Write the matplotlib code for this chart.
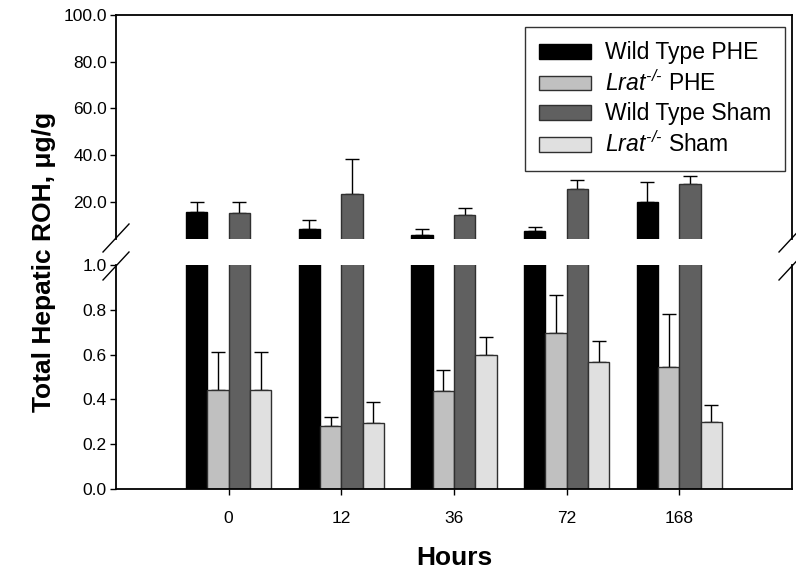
import matplotlib
matplotlib.use("Agg")
import matplotlib.pyplot as plt
import numpy as np

plt.rcParams['font.family'] = ['Liberation Sans', 'DejaVu Sans']
plt.rcParams['mathtext.fontset'] = 'custom'
plt.rcParams['mathtext.rm'] = 'Liberation Sans:italic'
plt.rcParams['mathtext.it'] = 'Liberation Sans:italic'

hours = ["0", "12", "36", "72", "168"]
series = ["Wild Type PHE", r"$\mathit{Lrat}^{\text{-/-}}$ PHE",
          "Wild Type Sham", r"$\mathit{Lrat}^{\text{-/-}}$ Sham"]
wt_phe = [15.4, 8.1, 5.7, 7.4, 19.7]
wt_phe_err = [4.6, 4.0, 2.6, 1.7, 8.6]
lrat_phe = [0.442, 0.283, 0.436, 0.695, 0.543]
lrat_phe_err = [0.168, 0.038, 0.097, 0.170, 0.237]
wt_sham = [15.1, 23.3, 14.4, 25.3, 27.7]
wt_sham_err = [4.9, 15.0, 2.9, 4.0, 3.1]
lrat_sham = [0.442, 0.296, 0.598, 0.569, 0.299]
lrat_sham_err = [0.168, 0.091, 0.081, 0.092, 0.075]

colors = ["#000000", "#c0c0c0", "#606060", "#e0e0e0"]
values = [wt_phe, lrat_phe, wt_sham, lrat_sham]
errors = [wt_phe_err, lrat_phe_err, wt_sham_err, lrat_sham_err]

W, H = 796, 575
fig = plt.figure(figsize=(W / 100, H / 100), dpi=100)
L, R = 116, 792
ax_top = fig.add_axes([L / W, 1 - 239 / H, (R - L) / W, (239 - 15) / H])
ax_bot = fig.add_axes([L / W, 1 - 489 / H, (R - L) / W, (489 - 265) / H])

x = np.arange(len(hours))
bw = 0.19
offsets = (np.arange(4) - 1.5) * bw
handles = []
for i in range(4):
    for ax in (ax_top, ax_bot):
        ec = "black" if i == 0 else "#303030"
        b = ax.bar(x + offsets[i], values[i], bw, color=colors[i],
                   edgecolor=ec, linewidth=1.0, zorder=2)
    eax = ax_top if i in (0, 2) else ax_bot
    eax.errorbar(x + offsets[i], values[i],
                 yerr=[np.zeros(len(x)), errors[i]], fmt='none',
                 ecolor='black', elinewidth=1.0, capsize=5, capthick=1.0,
                 zorder=1)
    handles.append(b)

ax_top.set_ylim(4, 100)
ax_bot.set_ylim(0, 1.0)
for ax in (ax_top, ax_bot):
    ax.set_xlim(-1, 5)
    for s in ax.spines.values():
        s.set_linewidth(1.3)
    ax.tick_params(axis='y', direction='out', length=4.5, width=1.0,
                   labelsize=12.5, pad=2)
    ax.tick_params(axis='x', direction='out', length=4.5, width=1.0,
                   labelsize=12.5, pad=11)

ax_top.spines['bottom'].set_visible(False)
ax_bot.spines['top'].set_visible(False)
ax_top.set_xticks([])
ax_top.set_yticks([20, 40, 60, 80, 100])
ax_top.set_yticklabels([f"{v:.1f}" for v in [20, 40, 60, 80, 100]])
ax_bot.set_xticks(x)
ax_bot.set_xticklabels(hours)
ax_bot.set_yticks([0, 0.2, 0.4, 0.6, 0.8, 1.0])
ax_bot.set_yticklabels([f"{v:.1f}" for v in [0, 0.2, 0.4, 0.6, 0.8, 1.0]])

# break marks
for xc in (L, R):
    for yc in (238, 266):
        fig.add_artist(plt.Line2D([(xc - 13) / W, (xc + 13) / W],
                                  [1 - (yc + 14) / H, 1 - (yc - 14) / H],
                                  color='black', lw=1.0))

leg = ax_top.legend(handles, series, loc='upper right',
                    bbox_to_anchor=(785 / W, 1 - 27 / H),
                    bbox_transform=fig.transFigure, borderaxespad=0,
                    fontsize=16.5, frameon=True, fancybox=False,
                    handlelength=2.25, handleheight=0.62, labelspacing=0.27,
                    handletextpad=0.6, borderpad=0.62)
leg.set_zorder(5)
leg.get_frame().set_edgecolor('black')
leg.get_frame().set_linewidth(1.0)

fig.text(44 / W, 1 - 262 / H, "Total Hepatic ROH, μg/g", rotation=90,
         ha='center', va='center', fontsize=19, fontweight='bold')
fig.text(454 / W, 1 - 558 / H, "Hours", ha='center', va='center',
         fontsize=19, fontweight='bold')

fig.savefig("out.png", dpi=100)
